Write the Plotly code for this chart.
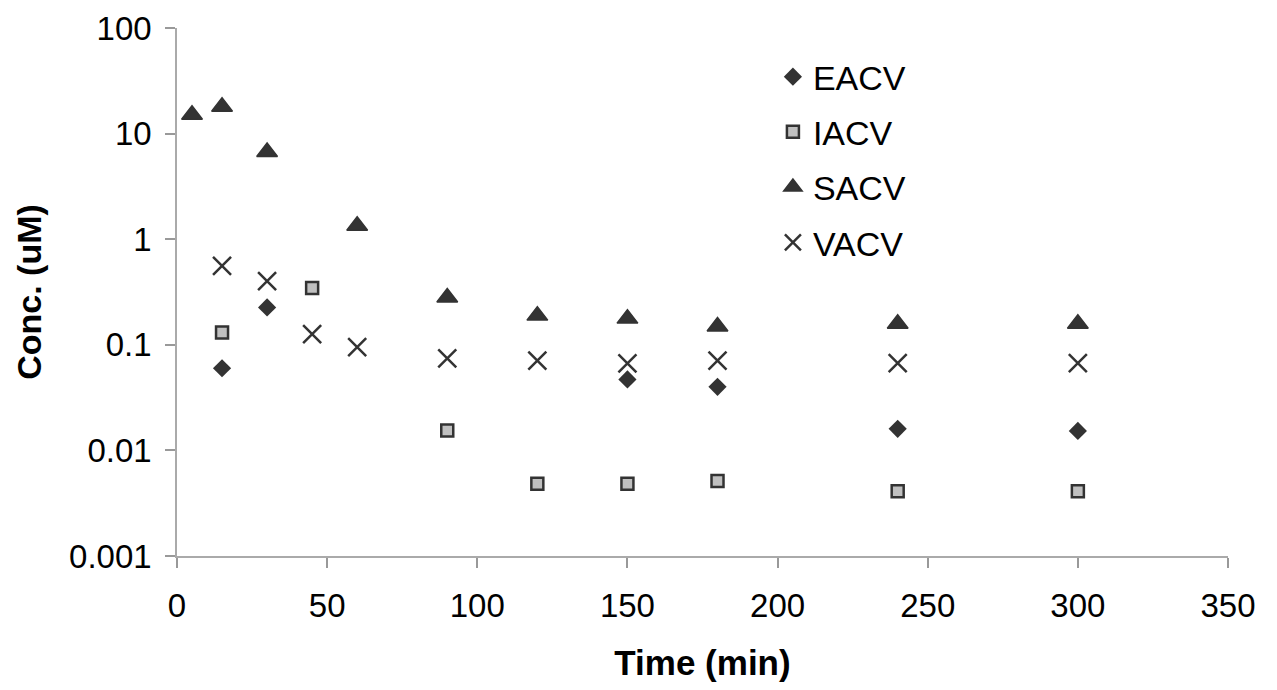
import plotly.graph_objects as go

# Data
eacv_t = [15, 30, 150, 180, 240, 300]
eacv_c = [0.060, 0.226, 0.047, 0.040, 0.016, 0.0153]

iacv_t = [15, 45, 90, 120, 150, 180, 240, 300]
iacv_c = [0.131, 0.345, 0.0154, 0.00484, 0.00484, 0.00513, 0.0041, 0.0041]

sacv_t = [5, 15, 30, 60, 90, 120, 150, 180, 240, 300]
sacv_c = [15.1, 18.0, 6.7, 1.34, 0.28, 0.189, 0.177, 0.149, 0.158, 0.158]

vacv_t = [15, 30, 45, 60, 90, 120, 150, 180, 240, 300]
vacv_c = [0.56, 0.40, 0.126, 0.095, 0.0745, 0.0707, 0.0668, 0.0707, 0.067, 0.067]

x_ticks = [0, 50, 100, 150, 200, 250, 300, 350]
y_ticks = [0.001, 0.01, 0.1, 1, 10, 100]
y_tick_text = ["0.001", "0.01", "0.1", "1", "10", "100"]

DARK = "#333333"
FONT = "Liberation Sans, Arial, sans-serif"

fig = go.Figure()
fig.add_trace(go.Scatter(x=eacv_t, y=eacv_c, mode="markers", name="EACV", legendgroup="a",
                         marker=dict(symbol="diamond", size=14, color=DARK, line=dict(width=0))))
fig.add_trace(go.Scatter(x=iacv_t, y=iacv_c, mode="markers", name="IACV", legendgroup="b",
                         marker=dict(symbol="square", size=12, color="#c0c0c0",
                                     line=dict(width=2.5, color=DARK))))
fig.add_trace(go.Scatter(x=sacv_t, y=sacv_c, mode="markers", name="SACV", legendgroup="c",
                         marker=dict(symbol="triangle-up", size=18, color=DARK,
                                     line=dict(width=1.5, color=DARK))))
fig.add_trace(go.Scatter(x=vacv_t, y=vacv_c, mode="markers", name="VACV", legendgroup="d",
                         marker=dict(symbol="x-thin", size=18, color=DARK,
                                     line=dict(width=2.5, color=DARK))))

fig.update_layout(
    width=1261, height=674,
    margin=dict(l=169, r=41, t=20, b=126),
    paper_bgcolor="white", plot_bgcolor="white",
    font=dict(family=FONT, size=33, color="black"),
    showlegend=True,
    legend=dict(x=0.567, y=0.962, xanchor="left", yanchor="top",
                font=dict(size=34), tracegroupgap=8,
                bgcolor="rgba(0,0,0,0)", borderwidth=0),
    xaxis=dict(range=[0, 350], tickvals=x_ticks, ticks="outside", ticklen=10,
               tickcolor="#999999", tickwidth=1.5, showline=True, linecolor="#aaaaaa",
               linewidth=1.5, showgrid=False, zeroline=False, ticklabelstandoff=10,
               automargin=False,
               title=dict(text="<b>Time (min)</b>", font=dict(size=35), standoff=48)),
    yaxis=dict(type="log", range=[-3, 2], tickvals=y_ticks, ticktext=y_tick_text,
               ticks="outside", ticklen=10, tickcolor="#999999", tickwidth=1.5,
               showline=True, linecolor="#aaaaaa", linewidth=1.5, showgrid=False,
               zeroline=False, ticklabelstandoff=7, automargin=False,
               title=dict(text="<b>Conc. (uM)</b>", font=dict(size=34), standoff=17)),
)

fig.write_html("out.html")
